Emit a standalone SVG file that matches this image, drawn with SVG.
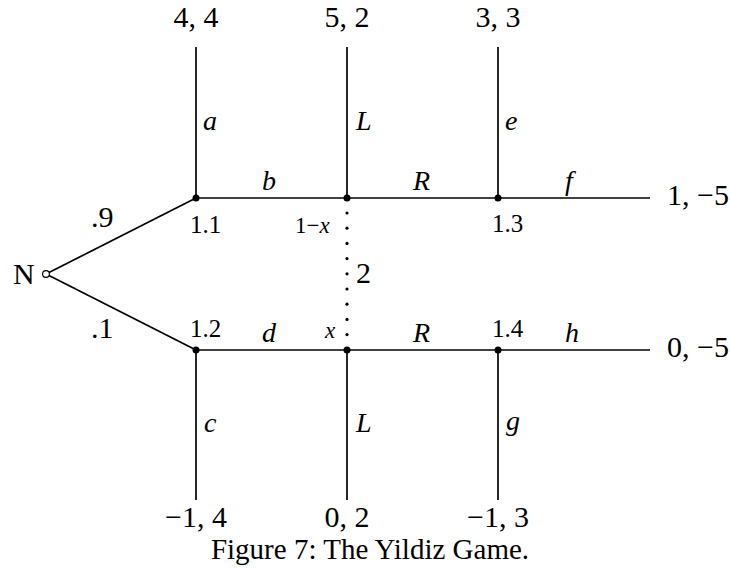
<svg xmlns="http://www.w3.org/2000/svg" width="730" height="574" viewBox="0 0 730 574">
<style>
text{font-family:"Liberation Serif","Times New Roman",serif;fill:#000}
.p{font-size:30px}
.l{font-size:28px;font-style:italic}
.n{font-size:25px}
.e{stroke:#000;stroke-width:1.7;fill:none}
.d{fill:#000}
</style>
<rect width="730" height="574" fill="#fff"/>
<g id="connectors">
<line class="e" x1="49" y1="272.5" x2="196" y2="198"/>
<line class="e" x1="49" y1="275.5" x2="196" y2="350"/>
<line class="e" x1="196" y1="198" x2="650" y2="198"/>
<line class="e" x1="196" y1="350" x2="650" y2="350"/>
<line class="e" x1="196" y1="47" x2="196" y2="198"/>
<line class="e" x1="347" y1="47" x2="347" y2="198"/>
<line class="e" x1="498" y1="47" x2="498" y2="198"/>
<line class="e" x1="196" y1="350" x2="196" y2="500"/>
<line class="e" x1="347" y1="350" x2="347" y2="500"/>
<line class="e" x1="498" y1="350" x2="498" y2="500"/>
<g id="infoset" class="d">
<circle cx="347" cy="213" r="1.6"/><circle cx="347" cy="228.2" r="1.6"/><circle cx="347" cy="243.4" r="1.6"/><circle cx="347" cy="258.6" r="1.6"/><circle cx="347" cy="273.8" r="1.6"/><circle cx="347" cy="289" r="1.6"/><circle cx="347" cy="304.2" r="1.6"/><circle cx="347" cy="319.4" r="1.6"/><circle cx="347" cy="334.6" r="1.6"/>
</g>
<text class="l" x="203" y="130">a</text>
<text class="l" x="356" y="130">L</text>
<text class="l" x="505" y="130">e</text>
<text class="l" x="262" y="190">b</text>
<text class="l" x="413" y="190">R</text>
<text class="l" x="565" y="190">f</text>
<text class="l" x="262" y="342">d</text>
<text class="l" x="413" y="342">R</text>
<text class="l" x="565" y="342">h</text>
<text class="l" x="204" y="432">c</text>
<text class="l" x="356" y="432">L</text>
<text class="l" x="506" y="430">g</text>
<text class="p" x="91" y="227">.9</text>
<text class="p" x="91" y="338">.1</text>
</g>
<g id="N"><circle cx="46" cy="274" r="3.4" fill="#fff" stroke="#000" stroke-width="1.2"/><text class="p" x="13" y="284">N</text></g>
<g id="n11"><circle class="d" cx="196" cy="198" r="3.5"/><text class="n" x="190" y="233">1.1</text></g>
<g id="n12"><circle class="d" cx="196" cy="350" r="3.5"/><text class="n" x="190" y="337">1.2</text></g>
<g id="n2a"><circle class="d" cx="347" cy="198" r="3.5"/><text class="n" x="295" y="233" style="font-size:23px">1−<tspan font-style="italic">x</tspan></text></g>
<g id="n2b"><circle class="d" cx="347" cy="350" r="3.5"/><text class="n" x="325" y="338" style="font-size:23px;font-style:italic">x</text></g>
<g id="lbl2"><text class="p" x="356" y="283">2</text></g>
<g id="n13"><circle class="d" cx="498" cy="198" r="3.5"/><text class="n" x="492" y="232">1.3</text></g>
<g id="n14"><circle class="d" cx="498" cy="350" r="3.5"/><text class="n" x="492" y="337">1.4</text></g>
<g id="payoffs">
<text class="p" x="196" y="27" text-anchor="middle">4, 4</text>
<text class="p" x="347" y="27" text-anchor="middle">5, 2</text>
<text class="p" x="498" y="27" text-anchor="middle">3, 3</text>
<text class="p" x="196" y="527" text-anchor="middle">−1, 4</text>
<text class="p" x="347" y="527" text-anchor="middle">0, 2</text>
<text class="p" x="498" y="527" text-anchor="middle">−1, 3</text>
<text class="p" x="667" y="205">1, −5</text>
<text class="p" x="667" y="357">0, −5</text>
</g>
<text id="caption" x="370" y="559" text-anchor="middle" style="font-size:29px">Figure 7: The Yildiz Game.</text>
</svg>
